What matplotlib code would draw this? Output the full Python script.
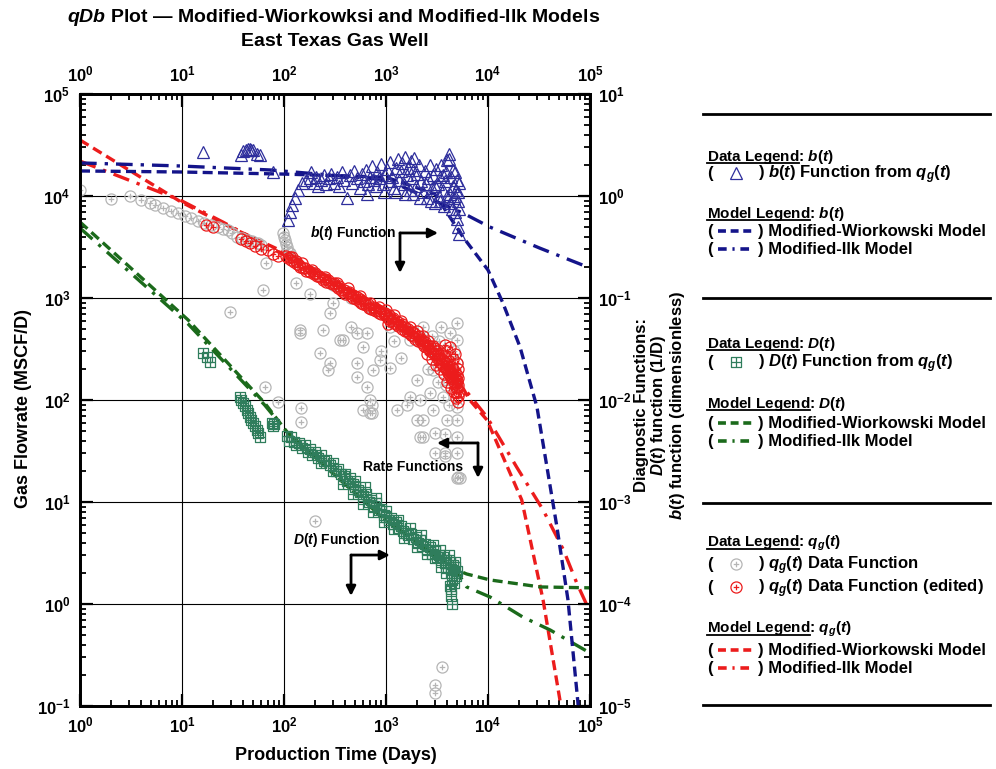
import numpy as np
import matplotlib
matplotlib.use("Agg")
import matplotlib.pyplot as plt
from matplotlib.path import Path
from matplotlib.lines import Line2D
from matplotlib.ticker import LogLocator, NullFormatter

plt.rcParams["font.family"] = ["Liberation Sans", "DejaVu Sans"]
plt.rcParams["font.weight"] = "bold"
plt.rcParams["mathtext.fontset"] = "custom"
plt.rcParams["mathtext.rm"] = "Liberation Sans:bold"
plt.rcParams["mathtext.bf"] = "Liberation Sans:bold"
plt.rcParams["mathtext.it"] = "Liberation Sans:italic:bold"

# ---------------- data ----------------
# gas rate, all data (grey)
qg_all_t = [1.0, 2.0, 3.1, 4.0, 4.9, 5.4, 6.5, 7.8, 9.1, 10.7, 12.3, 14.3, 16.5, 19.2, 22.5, 25, 28, 31,
            35, 39, 44, 49, 55, 60, 66, 62, 29.5, 87, 65, 147, 147, 201, 3540, 3000, 3000,
            98, 100, 102, 104, 107, 110, 114,
            143, 225, 270, 281, 379, 520, 520, 651, 697, 697, 595, 746, 1094, 873, 1282, 2013, 2154, 2154,
            2306, 2700, 2890, 3020, 3790, 3960, 3620, 4970, 4970, 5080, 4970, 4970, 4970, 4970, 4970, 4970,
            2306, 2890, 1718, 2306, 1718, 651, 1094, 281, 143, 241, 354, 520, 3020, 3790, 2013, 1620, 3790,
            4970, 733, 733, 5300, 4600, 4200, 3500, 2800, 3300, 4500, 3900, 4100, 1400, 900, 600, 450, 300,
            180, 130, 1200, 2600, 3200,
            130, 200, 300, 450, 700, 1000, 1500, 2200, 3000, 4000]
qg_all_q = [11500, 9300, 10000, 9100, 8500, 8200, 7600, 7100, 6800, 6400, 6100, 5700, 5450, 5200, 4950, 4800, 4650, 4300,
            4000, 3850, 3700, 3600, 3450, 3300, 2200, 1200, 730, 96, 134, 83, 61, 6.5, 0.24, 0.16, 0.135,
            4300, 4000, 3700, 3400, 3150, 2900, 2750,
            454, 289, 197, 231, 387, 231, 168, 134, 100, 75, 80, 197, 206, 247, 80, 157, 100, 43,
            64, 117, 80, 30, 28, 64, 107, 30, 43, 17.6, 64, 85, 134, 231, 387, 569,
            43, 197, 107, 520, 387, 454, 520, 713, 486, 486, 387, 454, 48, 46, 64, 90, 30,
            17, 89, 75, 17.2, 300, 450, 520, 420, 380, 180, 140, 90, 260, 300, 330, 520, 900,
            1100, 1400, 380, 200, 150,
            2300, 1750, 1350, 1000, 820, 700, 520, 400, 300, 220]

# gas rate, edited data (red)
qg_edit_t = [17, 20, 38, 42, 46, 52, 60, 70, 78, 88, 110, 118, 125, 135, 145, 155, 165, 180, 195, 210,
             225, 240, 260, 280, 300, 320, 340, 360, 380, 400, 420, 450, 480, 510, 540, 570, 600, 640, 680,
             720, 760, 800, 850, 900, 950, 1000, 1050, 1100, 1150, 1200, 1260, 1320, 1380, 1450, 1520,
             1600, 1680, 1760, 1850, 1940, 2040, 2140, 2250, 2360, 2480, 2600, 2730, 2860, 3000, 3150,
             3300, 3450, 3600, 3750, 3900, 4050, 4200, 4350, 4500, 4650, 4800, 4950, 5000, 5050, 5100,
             4900, 4700, 4400, 4100, 3800, 3500, 3200, 2900, 2600, 2300, 2000, 1700, 1400, 1200, 1000,
             850, 700, 550, 420, 330, 250, 190, 150, 120, 4300, 4600, 4000, 3700, 3400, 3100, 2800, 2500,
             4000, 4200, 3800, 4500, 4800, 5000, 5100, 4900, 5050, 1050,
             105, 115, 130, 140, 160, 175, 200, 220, 250, 270, 310, 350, 390, 430, 470, 520, 560, 620,
             660, 740, 780, 880, 980, 1080, 1180, 1300, 1420, 1550, 1650, 1800, 1900, 2100, 2200, 2400,
             2550, 2700, 2950, 3100, 3250, 3400, 3550, 3700, 3850, 4000, 4150, 4250, 4450, 4550, 4750,
             4850, 5000, 5100, 5150]
qg_edit_q = [5200, 4950, 3800, 3650, 3500, 3250, 3000, 2950, 2700, 2600, 2450, 2350, 2250, 2150, 2000,
             1950, 1850, 1800, 1700, 1650, 1600, 1500, 1450, 1400, 1380, 1300, 1250, 1200, 1150, 1100,
             1120, 1050, 1000, 980, 930, 900, 870, 850, 800, 780, 760, 740, 720, 690, 700, 660, 640, 600,
             620, 570, 560, 530, 540, 500, 480, 470, 450, 430, 420, 400, 380, 390, 360, 340, 330, 320,
             300, 290, 280, 260, 250, 230, 220, 210, 200, 185, 175, 165, 160, 150, 145, 155, 130, 110,
             165, 120, 190, 210, 240, 260, 290, 310, 340, 380, 420, 470, 520, 600, 680, 760, 820, 900,
             1050, 1250, 1400, 1600, 1900, 2200, 2500, 130, 120, 150, 180, 200, 220, 250, 280,
             300, 330, 350, 250, 280, 230, 200, 105, 95, 560,
             2600, 2500, 2300, 2100, 1950, 1850, 1750, 1650, 1550, 1500, 1400, 1300, 1200, 1150, 1080,
             1020, 980, 900, 880, 820, 800, 740, 720, 680, 640, 580, 560, 520, 500, 460, 450, 420, 400,
             370, 350, 340, 320, 300, 280, 260, 250, 240, 230, 200, 210, 190, 180, 200, 170, 160, 175,
             140, 120]

# D(t) from qg(t) (green squares, right axis)
D_t = [16, 17.5, 18.8, 37, 38, 39.6, 41, 43, 44.5, 46, 48, 50, 52, 54, 56, 58, 76, 80, 78,
       107, 112, 118, 125, 132, 140, 150, 160, 170, 180, 190, 200, 215, 230, 245, 260, 280, 300, 320,
       340, 360, 390, 410, 440, 470, 500, 530, 560, 600, 640, 680, 720, 760, 800, 850, 900, 950, 1000,
       1060, 1120, 1180, 1250, 1320, 1400, 1480, 1560, 1650, 1750, 1850, 1950, 2050, 2150, 2250, 2400,
       2550, 2700, 2850, 3000, 3150, 3300, 3450, 3600, 3750, 3900, 4050, 4200, 4350, 4500, 4650, 4800,
       4900, 5000, 4400, 4300, 4350, 4400, 4200, 4600, 3900, 3500, 3000, 2500, 2000, 1500, 1200, 950,
       750, 600, 480, 380, 300, 230, 1700, 1300, 1000, 800, 620, 500, 400, 2200, 2900, 3400, 4100, 4700]
D_val = [0.0289, 0.0262, 0.0236, 0.0107, 0.0100, 0.0094, 0.0087, 0.0080, 0.0074, 0.0068, 0.0064,
         0.0060, 0.0055, 0.0051, 0.0047, 0.0043, 0.0060, 0.0058, 0.0055,
         0.0044, 0.0040, 0.0043, 0.0039, 0.0036, 0.0038, 0.0034, 0.0036, 0.0031, 0.0033, 0.0029,
         0.0031, 0.0027, 0.0029, 0.0025, 0.0026, 0.0023, 0.0024, 0.0020, 0.0021, 0.0019, 0.0018,
         0.0016, 0.0017, 0.0015, 0.0014, 0.0013, 0.00125, 0.00115, 0.0012, 0.0010, 0.00105, 0.00092,
         0.00098, 0.00083, 0.00085, 0.00075, 0.00072, 0.00066, 0.00070, 0.00061, 0.00063, 0.00056,
         0.00058, 0.00052, 0.00050, 0.00047, 0.00049, 0.00043, 0.00045, 0.00040, 0.00042, 0.00037,
         0.00039, 0.00034, 0.00036, 0.00031, 0.00033, 0.00029, 0.00030, 0.00027, 0.00029, 0.00025,
         0.00027, 0.00023, 0.00026, 0.00022, 0.00024, 0.00020, 0.00023, 0.00019, 0.00021, 0.00017,
         0.00014, 0.00012, 0.00010, 0.00015, 0.00016, 0.00020, 0.00023, 0.00028, 0.00031, 0.00036,
         0.00044, 0.00054, 0.00064, 0.00080, 0.00096, 0.0012, 0.0015, 0.0020, 0.0024, 0.00055,
         0.00066, 0.00082, 0.00110, 0.0014, 0.0016, 0.0019, 0.00047, 0.00038, 0.00034, 0.00030, 0.00026]

# b(t) from qg(t) (blue triangles, right axis)
b_t = [16, 38, 40, 42, 44, 46, 48, 50, 54, 58, 78, 184,
       109, 114, 120, 128, 137, 150, 164, 180,
       195, 205, 215, 230, 245, 260, 275, 290, 310, 330, 350, 370, 390, 415, 440, 460, 490, 520, 550,
       580, 610, 640, 670, 700, 730, 760, 790, 820, 860, 900, 940, 980, 1020, 1060, 1100, 1150, 1200,
       1250, 1300, 1350, 1400, 1450, 1500, 1550, 1600, 1650, 1700, 1750, 1800, 1850, 1900, 1950, 2000,
       2100, 2200, 2300, 2400, 2500, 2600, 2700, 2800, 2900, 3000, 3100, 3200, 3300, 3400, 3500, 3600,
       3700, 3800, 3900, 4000, 4100, 4150, 4200, 4300, 4400, 4500, 4600, 4700, 4800, 4900, 5000, 5050,
       5100, 5150, 5200, 5200, 5100, 4950, 4750, 4550, 4250, 3950, 3650, 3350, 3050, 2750, 2450, 2150,
       1850, 1550, 1250, 950, 650]
b_val = [2.7, 2.55, 2.75, 2.85, 2.9, 2.9, 2.85, 2.8, 2.6, 2.55, 1.72, 1.72,
         0.58, 0.69, 0.82, 0.95, 1.15, 1.34, 1.43, 1.5,
         1.35, 1.55, 1.25, 1.45, 1.6, 1.3, 1.5, 1.65, 1.35, 1.55, 1.25, 1.7, 1.45, 0.95, 1.6, 1.35, 1.75,
         1.5, 1.2, 1.65, 1.4, 1.8, 1.3, 1.55, 1.95, 1.45, 1.25, 1.7, 1.5, 2.05, 1.3, 1.6, 1.85, 1.4, 2.15,
         1.55, 1.2, 1.9, 2.3, 1.45, 1.75, 2.1, 1.3, 2.4, 1.6, 1.9, 1.15, 2.2, 1.5, 1.8, 2.35, 1.25, 1.65,
         2.0, 1.4, 1.1, 1.75, 0.95, 1.5, 2.0, 1.2, 1.6, 0.85, 1.85, 1.3, 1.0, 1.55, 2.0, 1.15, 0.8, 1.4,
         1.7, 2.25, 2.6, 2.3, 1.05, 1.55, 0.75, 1.25, 0.95, 1.7, 0.7, 1.15, 0.6, 0.9, 0.5, 1.35, 0.42,
         0.75, 1.1, 1.45, 1.0, 1.8, 0.85, 1.0, 1.6, 0.9, 1.25, 0.9, 1.3, 0.95, 1.05, 1.05, 1.1, 1.1, 1.05]

# model curves
qW_t = [1, 9.8, 29.5, 100, 1023, 5010, 6610, 9770, 21400, 34700, 51300]
qW_val = [35400, 8730, 4970, 2820, 762, 164, 100, 63.7, 10.5, 1.09, 0.107]
qI_t = [1, 9.55, 25.1, 100, 1023, 5010, 9770, 19100, 34700, 55000, 74100, 100000]
qI_val = [22000, 9140, 5560, 2640, 729, 157, 68.1, 22.0, 8.36, 3.38, 1.61, 0.836]
DW_t = [1, 11.5, 64.6, 107, 933, 5010, 6170, 10500, 32400, 100000]
DW_val = [0.556, 0.0608, 0.00935, 0.00485, 6.97e-4, 2.15e-4, 1.97e-4, 1.72e-4, 1.47e-4, 1.44e-4]
DI_t = [1, 11.5, 64.6, 107, 933, 5010, 6170, 10500, 21900, 40700, 100000]
DI_val = [0.485, 0.0556, 0.00893, 0.00485, 6.97e-4, 2.06e-4, 1.47e-4, 1.17e-4, 7.46e-5, 5.56e-5, 3.31e-5]
bW_t = [1, 9.5, 100, 1000, 3000, 5690, 10000, 14000, 20600, 30200, 47400, 60800, 76200, 80000]
bW_val = [1.76, 1.72, 1.64, 1.53, 1.05, 0.396, 0.188, 0.0893, 0.0331, 0.00853, 5.69e-4, 1.10e-4, 1.07e-5, 5e-6]
bI_t = [1, 9.5, 72.8, 1016, 5690, 10400, 32000, 100000]
bI_val = [2.11, 1.97, 1.80, 1.44, 0.68, 0.497, 0.309, 0.197]

# ---------------- styling ----------------
BLUE = "#14148a"
RED = "#ec1c1c"
GREEN = "#1b6a1b"
GREEN_SQ = "#2f7d5c"
GREY = "#b5b5b5"
BLUE_TRI = "#2e2e9c"
DASH = (0, (3.0, 1.6))
DASHDOT = (0, (5.0, 2.4, 1.0, 2.4))

circ_plus = Path.make_compound_path(
    Path.unit_circle(),
    Path([(-0.5, 0), (0.5, 0), (0, -0.5), (0, 0.5)],
         [Path.MOVETO, Path.LINETO, Path.MOVETO, Path.LINETO]))
sq_grid = Path.make_compound_path(
    Path([(-1, -1), (1, -1), (1, 1), (-1, 1), (-1, -1)],
         [Path.MOVETO, Path.LINETO, Path.LINETO, Path.LINETO, Path.CLOSEPOLY]),
    Path([(-1, 0), (1, 0), (0, -1), (0, 1)],
         [Path.MOVETO, Path.LINETO, Path.MOVETO, Path.LINETO]))

W, H = 996, 769
fig = plt.figure(figsize=(W / 100, H / 100), dpi=100)


def fx(x):
    return x / W


def fy(y):
    return 1 - y / H


ax = fig.add_axes([fx(80), fy(706), 510 / W, 612 / H])
ax.set_xscale("log")
ax.set_yscale("log")
ax.set_xlim(1, 1e5)
ax.set_ylim(0.1, 1e5)
ax.grid(True, which="major", color="k", lw=0.8)
ax.set_axisbelow(True)

ax2 = ax.twinx()
ax2.set_yscale("log")
ax2.set_ylim(1e-5, 10)
ax2.tick_params(labelbottom=False, labeltop=False)

# rate functions (left axis)
ax.plot(qW_t, qW_val, color=RED, lw=2.4, ls=DASH, zorder=2)
ax.plot(qI_t, qI_val, color=RED, lw=2.4, ls=DASHDOT, zorder=2)
ax.plot(qg_all_t, qg_all_q, ls="none", marker=circ_plus, ms=8, mfc="none", mec=GREY, mew=0.9, zorder=3)
ax.plot(qg_edit_t, qg_edit_q, ls="none", marker=circ_plus, ms=8, mfc="none", mec=RED, mew=0.9, zorder=3)

# diagnostic functions (right axis)
ax2.plot(DW_t, DW_val, color=GREEN, lw=2.4, ls=DASH, zorder=2)
ax2.plot(DI_t, DI_val, color=GREEN, lw=2.4, ls=DASHDOT, zorder=2)
ax2.plot(bW_t, bW_val, color=BLUE, lw=2.4, ls=DASH, zorder=2)
ax2.plot(bI_t, bI_val, color=BLUE, lw=2.4, ls=DASHDOT, zorder=2)
ax2.plot(D_t, D_val, ls="none", marker=sq_grid, ms=7, mfc="none", mec=GREEN_SQ, mew=0.9, zorder=3)
ax2.plot(b_t, b_val, ls="none", marker="^", ms=8, mfc="none", mec=BLUE_TRI, mew=0.9, zorder=3)

# ticks
for a in (ax, ax2):
    for axis in ([a.xaxis, a.yaxis] if a is ax else [a.yaxis]):
        axis.set_major_locator(LogLocator(base=10, numticks=20))
        axis.set_minor_locator(LogLocator(base=10, subs=np.arange(2, 10), numticks=100))
        axis.set_minor_formatter(NullFormatter())
ax.tick_params(which="major", direction="in", length=9, width=1.6, labelsize=12,
               top=True, labeltop=True, right=False, pad=7)
ax.tick_params(which="minor", direction="in", length=4.5, width=1.3, top=True, right=False)
ax2.tick_params(which="major", direction="in", length=9, width=1.6, labelsize=12, pad=6)
ax2.tick_params(which="minor", direction="in", length=4.5, width=1.3)
for a in (ax, ax2):
    for s in a.spines.values():
        s.set_linewidth(2)

# annotations
arrow = dict(arrowstyle="-|>", color="k", lw=2, mutation_scale=14, shrinkA=0, shrinkB=0)
ax.text(1250, 4340, r"$\mathit{b}$($\mathit{t}$) Function", fontsize=10, ha="right", va="center")
ax.annotate("", xy=(3240, 4340), xytext=(1372, 4340), arrowprops=arrow)
ax.annotate("", xy=(1372, 1760), xytext=(1372, 4340), arrowprops=arrow)
ax.text(1840, 22, "Rate Functions", fontsize=10, ha="center", va="center")
ax.annotate("", xy=(3160, 37.9), xytext=(7980, 37.9), arrowprops=arrow)
ax.annotate("", xy=(7980, 17.2), xytext=(7980, 37.9), arrowprops=arrow)
ax.text(331, 4.24, r"$\mathit{D}$($\mathit{t}$) Function", fontsize=10, ha="center", va="center")
ax.annotate("", xy=(1094, 3.02), xytext=(454, 3.02), arrowprops=arrow)
ax.annotate("", xy=(454, 1.2), xytext=(454, 3.02), arrowprops=arrow)

# titles and axis labels
fig.text(fx(334), fy(18), r"$\mathit{qDb}$ Plot — Modified-Wiorkowksi and Modified-Ilk Models",
         fontsize=14, ha="center", va="center")
fig.text(fx(335), fy(42), "East Texas Gas Well", fontsize=14, ha="center", va="center")
fig.text(fx(336), fy(756), "Production Time (Days)", fontsize=13, ha="center", va="center")
fig.text(fx(24), fy(408), "Gas Flowrate (MSCF/D)", fontsize=13, ha="center", va="center", rotation=90)
fig.text(fx(660), fy(405),
         "Diagnostic Functions:\n$\\mathit{D}$($\\mathit{t}$) function (1/D)\n"
         "$\\mathit{b}$($\\mathit{t}$) function (dimensionless)",
         fontsize=12, ha="center", va="center", rotation=90, multialignment="center", linespacing=1.0)

# custom legend panel
FS = 12
FSH = 11
renderer = fig.canvas.get_renderer()


def rule(y):
    fig.add_artist(Line2D([fx(703), fx(990)], [fy(y), fy(y)], color="k", lw=2,
                          transform=fig.transFigure))


def heading(y, word, rest):
    # measure the underlined word, then draw the whole heading as one text
    probe = fig.text(fx(707), fy(y), word, fontsize=FSH, va="baseline", ha="left")
    bb = probe.get_window_extent(renderer=renderer)
    probe.remove()
    fig.text(fx(707), fy(y), word + rest, fontsize=FSH, va="baseline", ha="left")
    fig.add_artist(Line2D([bb.x0 / W, bb.x1 / W], [fy(y + 2)] * 2, color="k", lw=1.3,
                          transform=fig.transFigure))


def row_marker(y, text, **mk):
    fig.text(fx(707), fy(y), "(", fontsize=FS, va="baseline")
    fig.add_artist(Line2D([fx(736)], [fy(y - 5)], ls="none", transform=fig.transFigure, **mk))
    fig.text(fx(758), fy(y), ") " + text, fontsize=FS, va="baseline")


def row_line(y, color, ls, text):
    fig.text(fx(707), fy(y), "(", fontsize=FS, va="baseline")
    fig.add_artist(Line2D([fx(718), fx(752)], [fy(y - 5)] * 2, color=color, ls=ls, lw=2.6,
                          transform=fig.transFigure))
    fig.text(fx(758), fy(y), ") " + text, fontsize=FS, va="baseline")


bt = r"$\mathit{b}$($\mathit{t}$)"
Dt = r"$\mathit{D}$($\mathit{t}$)"
qt = r"$\mathit{q}_{\mathit{g}}$($\mathit{t}$)"
LEG_DASH = (0, (2.2, 1.3))
LEG_DD = (0, (2.4, 1.6, 0.6, 1.6))

rule(114)
heading(161, "Data Legend", ": " + bt)
row_marker(178, bt + " Function from " + qt, marker="^", ms=8, mfc="none", mec=BLUE_TRI, mew=0.9)
heading(218, "Model Legend", ": " + bt)
row_line(236, BLUE, LEG_DASH, "Modified-Wiorkowski Model")
row_line(254, BLUE, LEG_DD, "Modified-Ilk Model")
rule(298)
heading(348, "Data Legend", ": " + Dt)
row_marker(367, Dt + " Function from " + qt, marker=sq_grid, ms=7, mfc="none", mec=GREEN_SQ, mew=0.9)
heading(408, "Model Legend", ": " + Dt)
row_line(428, GREEN, LEG_DASH, "Modified-Wiorkowski Model")
row_line(446, GREEN, LEG_DD, "Modified-Ilk Model")
rule(503)
heading(547, "Data Legend", ": " + qt)
row_marker(569, qt + " Data Function", marker=circ_plus, ms=8, mfc="none", mec=GREY, mew=0.9)
row_marker(592, qt + " Data Function (edited)", marker=circ_plus, ms=8, mfc="none", mec=RED, mew=0.9)
heading(633, "Model Legend", ": " + qt)
row_line(655, RED, LEG_DASH, "Modified-Wiorkowski Model")
row_line(673, RED, LEG_DD, "Modified-Ilk Model")
rule(705)

fig.savefig("out.png", dpi=100)
